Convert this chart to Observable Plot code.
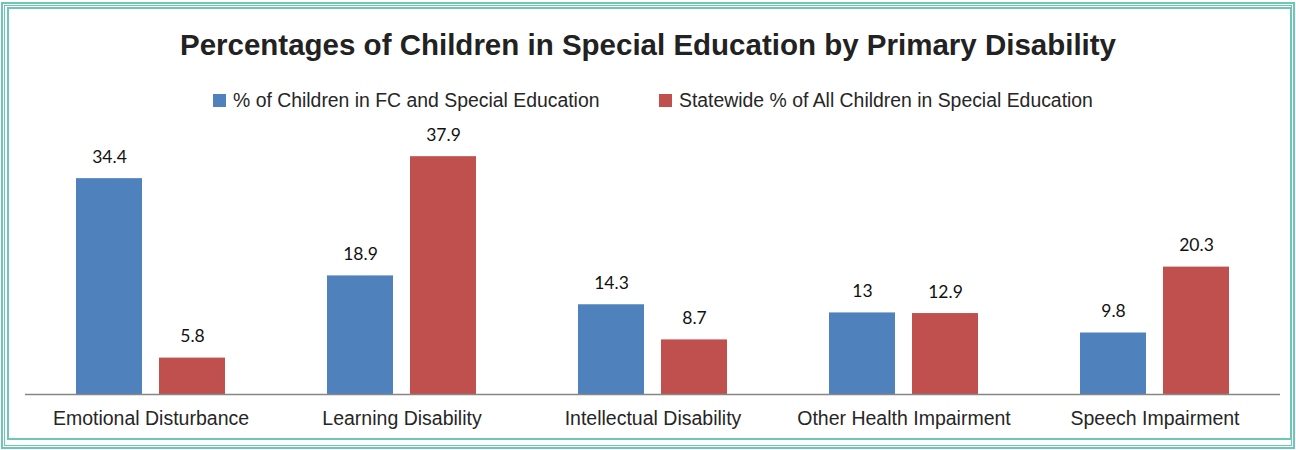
<!DOCTYPE html>
<html>
<head>
<meta charset="utf-8">
<script src="https://cdn.jsdelivr.net/npm/d3@7"></script>
<script src="https://cdn.jsdelivr.net/npm/@observablehq/plot@0.6"></script>
<style>
  html, body { margin: 0; padding: 0; background: #fff; }
  #wrap { position: relative; width: 1296px; height: 450px; overflow: hidden; background: #fff; font-family: "Liberation Sans", Arial, sans-serif; }
  .b { position: absolute; box-sizing: border-box; }
  #title { position: absolute; left: 0; width: 1296px; top: 27px; text-align: center; font-weight: bold; font-size: 29.5px; color: #222; line-height: 36px; }
  #legend { position: absolute; top: 89px; left: 0; width: 1296px; height: 22px; font-size: 19.4px; color: #262626; }
  .li { position: absolute; top: 0; height: 22px; line-height: 22px; white-space: nowrap; }
  .sw { position: absolute; top: 5px; width: 13px; height: 13px; }
  #chart { position: absolute; left: 0; top: 120px; }
</style>
</head>
<body>
<div id="wrap">
  <div class="b" style="left:1px;top:2px;width:1294px;height:447px;border:4px solid #6fc6b7;"></div>
  <div class="b" style="left:3px;top:4px;width:1290px;height:443px;border:1px solid #ffffff;"></div>
  <div class="b" style="left:7px;top:7px;width:1285px;height:433px;border:2px solid #6fc6b7;"></div>
  <div id="title"></div>
  <div id="legend"></div>
  <div id="chart"></div>
</div>
<script>
const titleText = "Percentages of Children in Special Education by Primary Disability";
const categories = ["Emotional Disturbance", "Learning Disability", "Intellectual Disability", "Other Health Impairment", "Speech Impairment"];
const seriesNames = ["% of Children in FC and Special Education", "Statewide % of All Children in Special Education"];
const fcValues = [34.4, 18.9, 14.3, 13, 9.8];
const statewideValues = [5.8, 37.9, 8.7, 12.9, 20.3];
const seriesColors = ["#4f81bd", "#c0504d"];

document.getElementById("title").textContent = titleText;

const legendPos = [{x: 213}, {x: 659}];
const legend = document.getElementById("legend");
seriesNames.forEach((s, i) => {
  const item = document.createElement("div");
  item.className = "li";
  item.style.left = legendPos[i].x + "px";
  const sw = document.createElement("div");
  sw.className = "sw";
  sw.style.left = "0px";
  sw.style.background = seriesColors[i];
  const t = document.createElement("span");
  t.style.marginLeft = "20px";
  t.textContent = s;
  item.appendChild(sw);
  item.appendChild(t);
  legend.appendChild(item);
});

const data = [];
categories.forEach((c, i) => {
  data.push({category: c, series: seriesNames[0], value: fcValues[i]});
  data.push({category: c, series: seriesNames[1], value: statewideValues[i]});
});

const chart = Plot.plot({
  width: 1296,
  height: 310,
  marginLeft: 23,
  marginRight: 14,
  marginTop: 23,
  marginBottom: 36,
  style: {fontFamily: "'Liberation Sans', Arial, sans-serif", background: "transparent", overflow: "visible"},
  fx: {domain: categories, padding: 0, label: null, axis: null},
  x: {domain: seriesNames, paddingInner: 0.2024, paddingOuter: 0.6, axis: null},
  y: {domain: [0, 40], axis: null},
  color: {domain: seriesNames, range: seriesColors},
  marks: [
    Plot.barY(data, {fx: "category", x: "series", y: "value", fill: "series"}),
    Plot.ruleY([0], {stroke: "#868686", strokeWidth: 1.3}),
    Plot.text(data, {fx: "category", x: "series", y: "value", text: d => String(d.value), dy: -16, lineAnchor: "bottom", fontSize: 17.5, fontFamily: "Lato, 'Open Sans', sans-serif", fill: "#111"}),
    Plot.axisFx({anchor: "bottom", tickSize: 0, tickPadding: 17, fontSize: 19.5, fill: "#262626", label: null, lineAnchor: "top"})
  ]
});
document.getElementById("chart").appendChild(chart);
</script>
</body>
</html>
